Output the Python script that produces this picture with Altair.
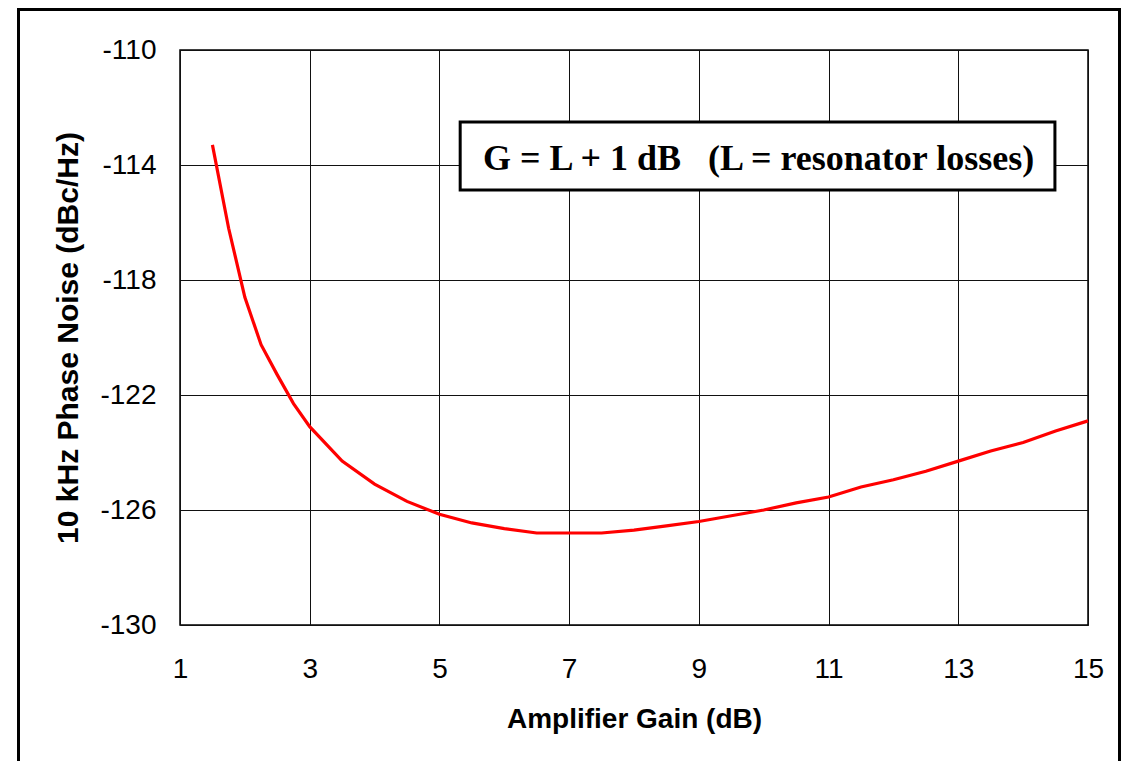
import altair as alt
import pandas as pd

# Data
gain_db = [1.5, 1.75, 2.0, 2.25, 2.5, 2.75, 3.0, 3.5, 4.0, 4.5, 5.0, 5.5, 6.0, 6.5,
           7.0, 7.5, 8.0, 8.5, 9.0, 9.5, 10.0, 10.5, 11.0, 11.5, 12.0, 12.5, 13.0,
           13.5, 14.0, 14.5, 15.0]
phase_noise = [-113.3, -116.2, -118.6, -120.25, -121.3, -122.3, -123.1, -124.3, -125.1,
               -125.7, -126.15, -126.45, -126.65, -126.8, -126.8, -126.8, -126.7, -126.55,
               -126.4, -126.2, -126.0, -125.75, -125.55, -125.2, -124.95, -124.65, -124.3,
               -123.95, -123.65, -123.25, -122.9]
x_ticks = [1, 3, 5, 7, 9, 11, 13, 15]
y_ticks = [-130, -126, -122, -118, -114, -110]
note_text = "G = L + 1 dB\u00a0\u00a0\u00a0(L = resonator losses)"
box_x = [5.32, 14.49]
box_y = [-112.5, -114.87]
note_pos = [9.92, -113.8]

df = pd.DataFrame({"gain": gain_db, "noise": phase_noise})
box_df = pd.DataFrame({"x": [box_x[0]], "x2": [box_x[1]], "y": [box_y[0]], "y2": [box_y[1]],
                       "tx": [note_pos[0]], "ty": [note_pos[1]], "label": [note_text]})

W, H = 908, 575
PAD_L, PAD_T, PAD_R, PAD_B = 172, 42, 33, 136

xscale = alt.Scale(domain=[1, 15], nice=False, zero=False)
yscale = alt.Scale(domain=[-130, -110], nice=False, zero=False)

xaxis = alt.Axis(values=x_ticks, title="Amplifier Gain (dB)", grid=True, gridColor="#111",
                 gridWidth=1, ticks=False, domain=False, labelFont="Liberation Sans",
                 labelExpr="'' + datum.value", labelFlush=False,
                 labelFontSize=28, labelColor="#000", labelPadding=30,
                 titleFont="Liberation Sans", titleFontSize=28, titleFontWeight="bold",
                 titleColor="#000", titlePadding=22)
yaxis = alt.Axis(values=y_ticks, title="10 kHz Phase Noise (dBc/Hz)", grid=True,
                 gridColor="#111", gridWidth=1, ticks=False, domain=False,
                 labelExpr="'' + datum.value", labelFlush=False,
                 labelFont="Liberation Sans", labelFontSize=28, labelColor="#000",
                 labelPadding=24, titleFont="Liberation Sans", titleFontSize=30,
                 titleFontWeight="bold", titleColor="#000", titlePadding=16)

line = alt.Chart(df).mark_line(color="#ff0000", strokeWidth=3.2).encode(
    x=alt.X("gain:Q", scale=xscale, axis=xaxis),
    y=alt.Y("noise:Q", scale=yscale, axis=yaxis),
)

box = alt.Chart(box_df).mark_rect(fill="white", stroke="#000", strokeWidth=3).encode(
    x=alt.X("x:Q", scale=xscale), x2="x2:Q",
    y=alt.Y("y:Q", scale=yscale), y2="y2:Q",
)

note = alt.Chart(box_df).mark_text(font="Liberation Serif", fontSize=36, fontWeight="bold",
                                   color="#000", align="center", baseline="middle").encode(
    x=alt.X("tx:Q", scale=xscale), y=alt.Y("ty:Q", scale=yscale), text="label:N",
)

# outer figure frame (decorative)
frame_l = -161.5
frame_t = -40.5
frame_r = 939.5
frame_b = H + PAD_B
frame = alt.layer(
    alt.Chart().mark_rule(color="#000", strokeWidth=3).encode(
        x=alt.value(frame_l), y=alt.value(frame_t), y2=alt.value(frame_b)),
    alt.Chart().mark_rule(color="#000", strokeWidth=3).encode(
        x=alt.value(frame_r), y=alt.value(frame_t), y2=alt.value(frame_b)),
    alt.Chart().mark_rule(color="#000", strokeWidth=3).encode(
        x=alt.value(frame_l - 1.5), x2=alt.value(frame_r + 1.5), y=alt.value(frame_t)),
)

chart = alt.layer(line, box, note, frame).properties(
    width=W, height=H,
    autosize=alt.AutoSizeParams(type="none"),
    padding={"left": PAD_L, "top": PAD_T, "right": PAD_R, "bottom": PAD_B},
    background="white",
).configure_view(stroke="#000", strokeWidth=1.5)

chart.save("out.html", embed_options={"renderer": "svg", "actions": False})
